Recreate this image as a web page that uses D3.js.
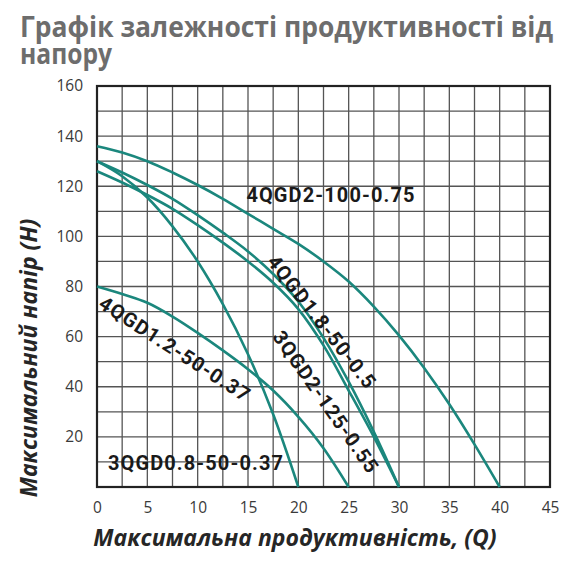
<!DOCTYPE html>
<html>
<head>
<meta charset="utf-8">
<script src="https://cdn.jsdelivr.net/npm/d3@7"></script>
<style>
  html, body { margin: 0; padding: 0; background: #fff; }
  svg { display: block; }
  .tick text { font-family: 'Open Sans', sans-serif; font-size: 15.5px; fill: #3a3a3a; }
</style>
</head>
<body>
<div id="chart"></div>
<script>
// --- data ---
const titleLines = ['Графік залежності продуктивності від', 'напору'];
const xTitle = 'Максимальна продуктивність, (Q)';
const yTitle = 'Максимальний напір (H)';

const xTicks = [0, 5, 10, 15, 20, 25, 30, 35, 40, 45];
const yTicks = [20, 40, 60, 80, 100, 120, 140, 160];

const q4QGD2_100 = [0, 2.5, 5, 7.5, 10, 12.5, 15, 17.5, 20, 22.5, 25, 27.5, 30, 32.5, 35, 37.5, 40];
const h4QGD2_100 = [136, 133.5, 130, 125.5, 120.5, 115, 109, 103, 97, 90, 82, 72, 60.5, 47.5, 33, 17, 0];

const q4QGD18_50 = [0, 2.5, 5, 7.5, 10, 12.5, 15, 17.5, 20, 22.5, 25, 27.5, 30];
const h4QGD18_50 = [130, 125.5, 120.5, 115, 108.5, 101.5, 94, 85, 74, 59.5, 42, 22, 0];

const q3QGD2_125 = [0, 2.5, 5, 7.5, 10, 12.5, 15, 17.5, 20, 22.5, 25, 27.5, 30];
const h3QGD2_125 = [126, 121.5, 116.5, 111, 104.5, 97.5, 90, 81.5, 71, 56.5, 38.5, 20, 0];

const q4QGD12_50 = [0, 2.5, 5, 7.5, 10, 12.5, 15, 17.5, 20, 22.5, 25];
const h4QGD12_50 = [80, 77, 73.5, 68, 61.5, 54.5, 47, 38.5, 28, 15.5, 0];

const q3QGD08_50 = [0, 2.5, 5, 7.5, 10, 12.5, 15, 17.5, 20];
const h3QGD08_50 = [130, 124, 115.5, 104, 90, 73, 53, 29, 0];

const seriesNames = ['4QGD2-100-0.75', '4QGD1.8-50-0.5', '3QGD2-125-0.55', '4QGD1.2-50-0.37', '3QGD0.8-50-0.37'];

// --- layout ---
const W = 570, H = 569;
const plot = { left: 97, right: 550, top: 86, bottom: 487 };
const curveColor = '#1b877d';

const svg = d3.select('#chart').append('svg')
  .attr('width', W)
  .attr('height', H);

const x = d3.scaleLinear().domain([0, 45]).range([plot.left, plot.right]);
const y = d3.scaleLinear().domain([0, 160]).range([plot.bottom, plot.top]);

// title (the original font is narrower than what we have, so squeeze it)
const titleLen = [533, 92];
svg.append('g').selectAll('text')
  .data(titleLines)
  .join('text')
  .attr('x', 20)
  .attr('y', (d, i) => 37 + i * 27)
  .attr('textLength', (d, i) => titleLen[i])
  .attr('lengthAdjust', 'spacingAndGlyphs')
  .attr('font-family', "'Open Sans', sans-serif")
  .attr('font-weight', 700)
  .attr('font-size', '28px')
  .attr('fill', '#6d6d6d')
  .text(d => d);

// grid
const grid = svg.append('g').attr('class', 'grid');
grid.selectAll('line.v')
  .data(d3.range(2.5, 45, 2.5))
  .join('line')
  .attr('class', 'v')
  .attr('x1', d => x(d)).attr('x2', d => x(d))
  .attr('y1', plot.top).attr('y2', plot.bottom)
  .attr('stroke', '#555').attr('stroke-width', 1.3);

grid.selectAll('line.h')
  .data(d3.range(10, 160, 10))
  .join('line')
  .attr('class', 'h')
  .attr('y1', d => y(d)).attr('y2', d => y(d))
  .attr('x1', plot.left).attr('x2', plot.right)
  .attr('stroke', '#555').attr('stroke-width', 1.3);

svg.append('rect')
  .attr('x', plot.left).attr('y', plot.top)
  .attr('width', plot.right - plot.left)
  .attr('height', plot.bottom - plot.top)
  .attr('fill', 'none')
  .attr('stroke', '#222')
  .attr('stroke-width', 2.2);

// axes (labels only)
const xAxis = svg.append('g')
  .attr('transform', `translate(0, ${plot.bottom})`)
  .call(d3.axisBottom(x).tickValues(xTicks).tickSize(0).tickPadding(15));
xAxis.select('.domain').remove();

const yAxis = svg.append('g')
  .attr('transform', `translate(${plot.left}, 0)`)
  .call(d3.axisLeft(y).tickValues(yTicks).tickSize(0).tickPadding(14));
yAxis.select('.domain').remove();

// axis titles
svg.append('text')
  .attr('x', 295).attr('y', 546)
  .attr('text-anchor', 'middle')
  .attr('font-family', "'Open Sans', sans-serif")
  .attr('font-weight', 700)
  .attr('font-style', 'italic')
  .attr('font-size', '23px')
  .attr('fill', '#262626')
  .text(xTitle);

svg.append('text')
  .attr('transform', 'translate(37, 358) rotate(-90)')
  .attr('text-anchor', 'middle')
  .attr('font-family', "'Open Sans', sans-serif")
  .attr('font-weight', 700)
  .attr('font-style', 'italic')
  .attr('font-size', '23px')
  .attr('fill', '#262626')
  .text(yTitle);

// curves
const series = [
  { name: seriesNames[0], q: q4QGD2_100, h: h4QGD2_100 },
  { name: seriesNames[1], q: q4QGD18_50, h: h4QGD18_50 },
  { name: seriesNames[2], q: q3QGD2_125, h: h3QGD2_125 },
  { name: seriesNames[3], q: q4QGD12_50, h: h4QGD12_50 },
  { name: seriesNames[4], q: q3QGD08_50, h: h3QGD08_50 }
];

const line = d3.line()
  .x(d => x(d[0]))
  .y(d => y(d[1]))
  .curve(d3.curveCatmullRom.alpha(0.5));

svg.append('g').selectAll('path')
  .data(series)
  .join('path')
  .attr('d', s => line(s.q.map((v, i) => [v, s.h[i]])))
  .attr('fill', 'none')
  .attr('stroke', curveColor)
  .attr('stroke-width', 2.6);

// curve labels
const labelPos = [
  { cx: 331, cy: 195, angle: 0 },
  { cx: 322, cy: 322, angle: 52 },
  { cx: 326, cy: 402, angle: 55 },
  { cx: 175, cy: 349, angle: 33 },
  { cx: 196, cy: 463, angle: 0 }
];

svg.append('g').selectAll('text')
  .data(series)
  .join('text')
  .attr('transform', (s, i) => `translate(${labelPos[i].cx}, ${labelPos[i].cy}) rotate(${labelPos[i].angle})`)
  .attr('text-anchor', 'middle')
  .attr('dominant-baseline', 'central')
  .attr('font-family', 'Roboto, sans-serif')
  .attr('font-weight', 700)
  .attr('font-size', '20px')
  .attr('letter-spacing', '1.1px')
  .attr('fill', '#1a1a1a')
  .text(s => s.name);
</script>
</body>
</html>
